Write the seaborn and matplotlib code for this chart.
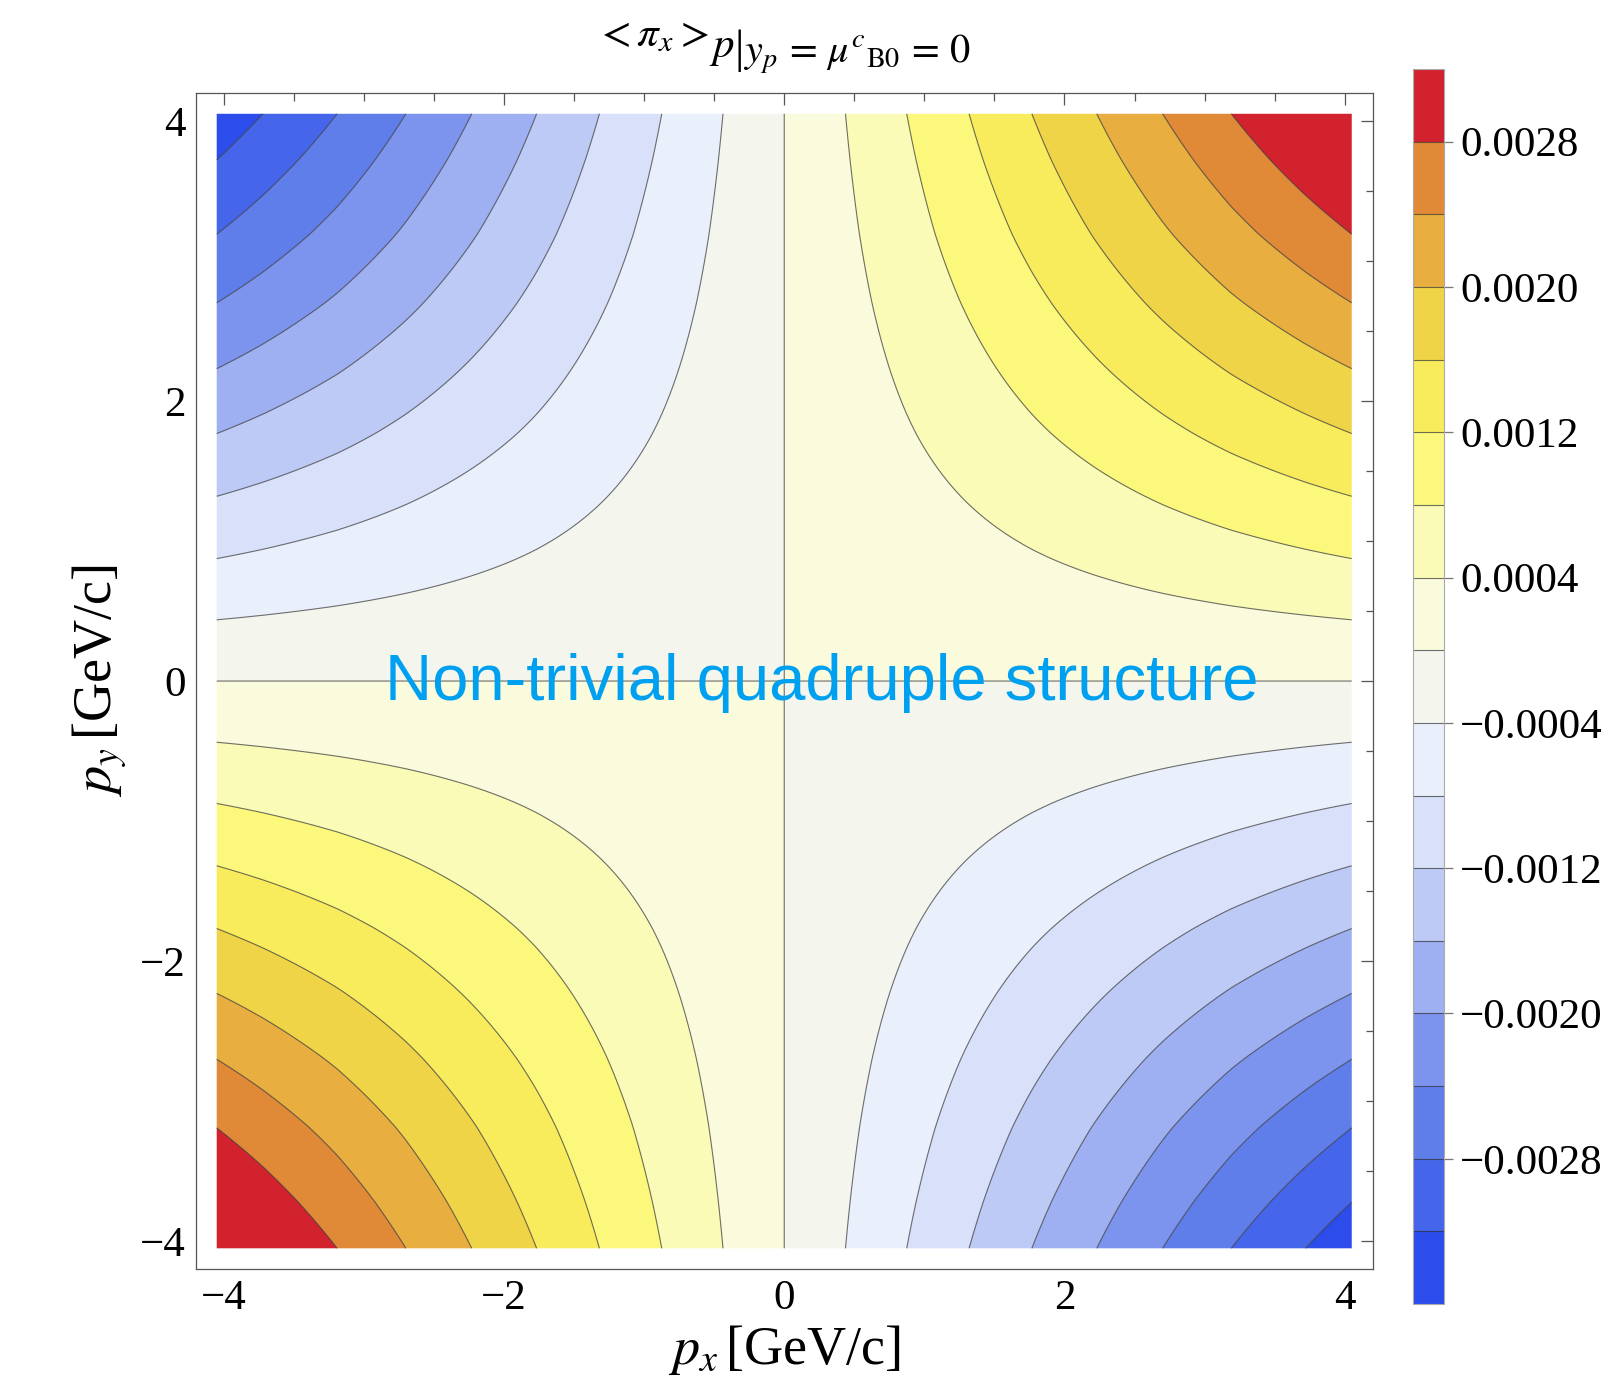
import numpy as np
import matplotlib
matplotlib.use("Agg")
import matplotlib.pyplot as plt
from matplotlib.colors import BoundaryNorm, ListedColormap
from matplotlib.cm import ScalarMappable
from matplotlib.ticker import MultipleLocator, FuncFormatter
import seaborn as sns

# Edge profile <pi_x>_p(p_x, p_y = 4.05): positions where the field crosses each level
edge_px = [0.0, 0.437, 0.874, 1.319, 1.767, 2.23, 2.70, 3.19, 3.72, 4.05]
edge_val = [0.0, 0.0004, 0.0008, 0.0012, 0.0016, 0.0020, 0.0024, 0.0028, 0.0032, 0.00344]
p_edge = 4.05

# Contour levels and band colours (low -> high)
band_bounds = [-0.0036, -0.0032, -0.0028, -0.0024, -0.0020, -0.0016, -0.0012, -0.0008,
               -0.0004, 0.0, 0.0004, 0.0008, 0.0012, 0.0016, 0.0020, 0.0024, 0.0028, 0.0032]
line_levels = [-0.0032, -0.0028, -0.0024, -0.0020, -0.0016, -0.0012, -0.0008,
               -0.0004, 0.0, 0.0004, 0.0008, 0.0012, 0.0016, 0.0020, 0.0024, 0.0028]
band_colors = ["#2C4DEB", "#4566EA", "#5F7EEA", "#7C94EE", "#9EB0F2", "#BCCAF5",
               "#D8E0FA", "#EAEFFC", "#F4F6EE", "#FAFADC", "#FBFBB8", "#FBF87C",
               "#F8EC5C", "#F0D448", "#E8AE40", "#E08A38", "#D2222D"]
cbar_ticks = [-0.0028, -0.0020, -0.0012, -0.0004, 0.0004, 0.0012, 0.0020, 0.0028]
axis_ticks = [-4, -2, 0, 2, 4]

sns.set_theme(style="white")
plt.rcParams["font.family"] = ["Liberation Serif", "DejaVu Serif"]
plt.rcParams["mathtext.fontset"] = "stix"
plt.rcParams["axes.unicode_minus"] = True
plt.rcParams["contour.negative_linestyle"] = "solid"
for key in ["text.color", "axes.labelcolor", "xtick.color", "ytick.color"]:
    plt.rcParams[key] = "black"

# Separable field built from the edge profile (odd in each momentum)
def profile(p):
    p = np.asarray(p)
    return np.sign(p) * np.interp(np.abs(p), edge_px, edge_val)

grid = np.linspace(-p_edge, p_edge, 600)
PX, PY = np.meshgrid(grid, grid)
field = profile(PX) * profile(PY) / profile(p_edge)

palette = sns.color_palette(band_colors)
cmap = ListedColormap(palette)

fig = plt.figure(figsize=(16.12, 13.95), dpi=100)
ax = fig.add_axes([0.1214, 0.0901, 0.7302, 0.8434])

fill_levels = band_bounds[:-1] + [band_bounds[-1] + 0.0004]
ax.contourf(PX, PY, field, levels=fill_levels, colors=palette, antialiased=True)
ax.contour(PX, PY, field, levels=line_levels, colors=[(0.2, 0.2, 0.2)],
           linewidths=0.8, alpha=0.7, linestyles="solid")

ax.set_xlim(-4.2, 4.2)
ax.set_ylim(-4.2, 4.2)
ax.set_xticks(axis_ticks)
ax.set_yticks(axis_ticks)
ax.xaxis.set_minor_locator(MultipleLocator(0.5))
ax.yaxis.set_minor_locator(MultipleLocator(0.5))
ax.tick_params(which="both", direction="in", top=True, right=True, color="#555555",
               width=0.9, labelcolor="black")
ax.tick_params(which="major", length=8.6, labelsize=31, pad=7)
ax.tick_params(which="minor", length=5.4)
for s in ax.spines.values():
    s.set_color("#555555")
    s.set_linewidth(0.9)
ax.grid(False)

ax.set_xlabel(r"$p_x\,$[GeV/c]", fontsize=39, labelpad=4, color="black")
ax.set_ylabel(r"$p_y\,$[GeV/c]", fontsize=39, labelpad=8, color="black")

ax.text(0.268, -0.134, "Non-trivial quadruple structure", color="#00A0F0",
        fontsize=47, family=["Liberation Sans", "DejaVu Sans"], ha="center",
        va="baseline")

# Colour legend
cax = fig.add_axes([0.8766, 0.0652, 0.0192, 0.8853])
norm = BoundaryNorm(band_bounds, cmap.N)
sm = ScalarMappable(norm=norm, cmap=cmap)
cbar = fig.colorbar(sm, cax=cax, boundaries=band_bounds, ticks=cbar_ticks,
                    drawedges=True, spacing="uniform")
cbar.ax.minorticks_off()
cbar.dividers.set_color((0.2, 0.2, 0.2))
cbar.dividers.set_alpha(0.7)
cbar.dividers.set_linewidth(0.8)
cbar.outline.set_edgecolor("#aaaaaa")
cbar.outline.set_linewidth(0.8)
cbar.ax.tick_params(which="major", length=6.5, width=0.9, color="#777777",
                    labelsize=31, pad=5, labelcolor="black")
cbar.ax.tick_params(which="minor", length=0)
cbar.ax.yaxis.set_major_formatter(FuncFormatter(lambda v, _: f"{v:.4f}".replace("-", "\u2212")))

# Title assembled from pieces so the condition part sits lower
fig.canvas.draw()
renderer = fig.canvas.get_renderer()
W, H = fig.get_size_inches() * fig.dpi
t_a = fig.text(0, 1 - 46 / H, r"$<\pi_x>$", fontsize=31, va="baseline")
t_p = fig.text(0, 1 - 57 / H, r"$p$", fontsize=31, va="baseline")
t_bar = fig.text(0, 1 - 62 / H, "|", fontsize=34, va="baseline",
                 family=["Liberation Serif"])
t_b = fig.text(0, 1 - 63 / H, r"$y_p\,=\,\mu^{c}{}_{\mathrm{B0}}\,=\,0$", fontsize=29,
               va="baseline")
parts = [t_a, t_p, t_bar, t_b]
gaps = [1, 0, 0]
widths = [p.get_window_extent(renderer).width for p in parts]
total = sum(widths) + sum(gaps)
x0 = 783 - total / 2
for i, (p, w) in enumerate(zip(parts, widths)):
    p.set_x(x0 / W)
    x0 += w + (gaps[i] if i < len(gaps) else 0)

fig.savefig("out.png", dpi=100)
